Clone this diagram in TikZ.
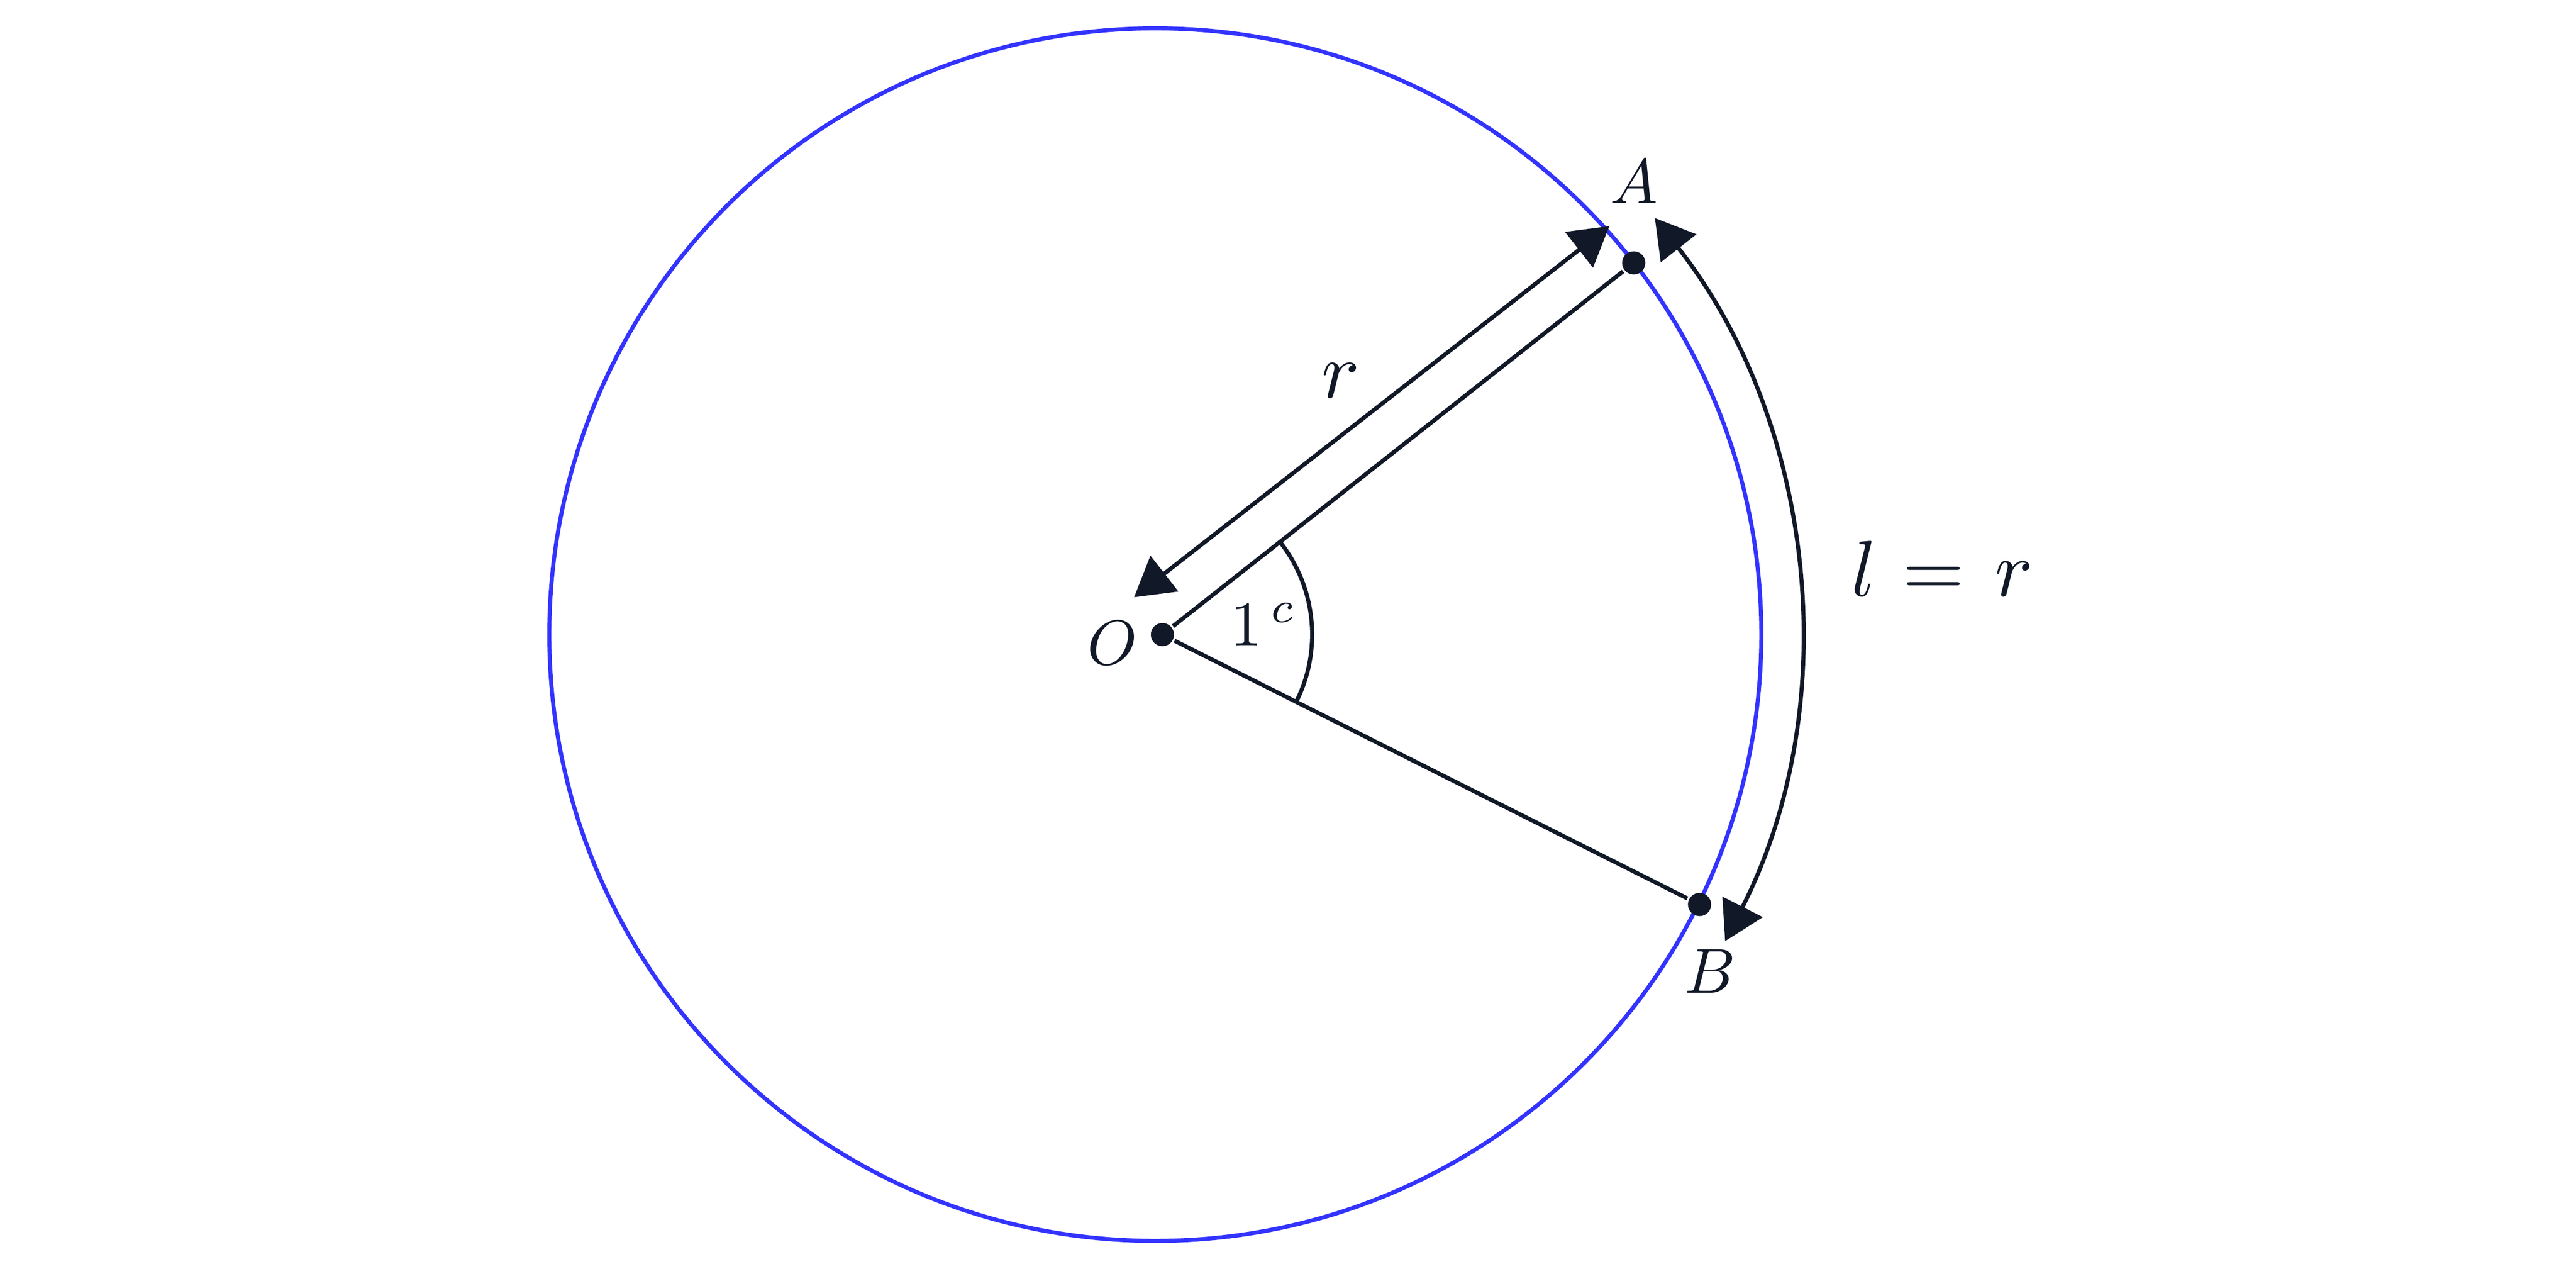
\documentclass[tikz,border=0pt]{standalone}
\usetikzlibrary{arrows.meta}
\definecolor{ink}{HTML}{111827}
\definecolor{rim}{HTML}{3333FF}

\begin{document}
\begin{tikzpicture}[line width=0.9pt, color=ink,
  >={Triangle[length=8.5pt,width=9.8pt]},
  pt/.style={circle, fill=ink, inner sep=0pt, minimum size=0.18cm},
  lbl/.style={inner sep=0pt, anchor=base, scale=1.4},
  biglbl/.style={inner sep=0pt, anchor=base, scale=1.75}]
\useasboundingbox (-9.025,-4.92) rectangle (10.975,4.925);
\draw[rim] (-0.055,0) circle (4.705);
\coordinate (a1) at (-26.67:1.1625);
\draw (a1) arc[start angle=-26.67, end angle=38.25, radius=1.1625];
\node[pt] (O) at (0,0){};
\node[pt] (A) at (38.25:4.66){};
\node[pt] (B) at (-26.67:4.667){};
\draw (A) -- (O);
\draw (O) -- (B);
\coordinate (rO) at (-0.22,0.29);
\coordinate (rA) at (3.47,3.17);
\draw[<->] (rA) -- (rO);
\coordinate (lA) at ([shift={(38.1:5.24)}]-0.3,0);
\draw[<->] (lA) arc[start angle=38.1, end angle=-27, radius=5.24];

\node[lbl] (Alab) at (3.66,3.345){$A$};
\node[lbl] (Blab) at (4.25,-2.78){$B$};
\node[lbl] (Olab) at (-0.39,-0.235){$O$};
\node[lbl, anchor=base west] (ang) at (0.505,-0.085){$1^{\kern1.4pt c}$};
\node[biglbl] (rlab) at (1.3825,1.84){$r$};
\node[biglbl, anchor=base west] (arclab) at (5.32,0.3){$l\mkern1mu=\mkern2mu r$};

\end{tikzpicture}
\end{document}
